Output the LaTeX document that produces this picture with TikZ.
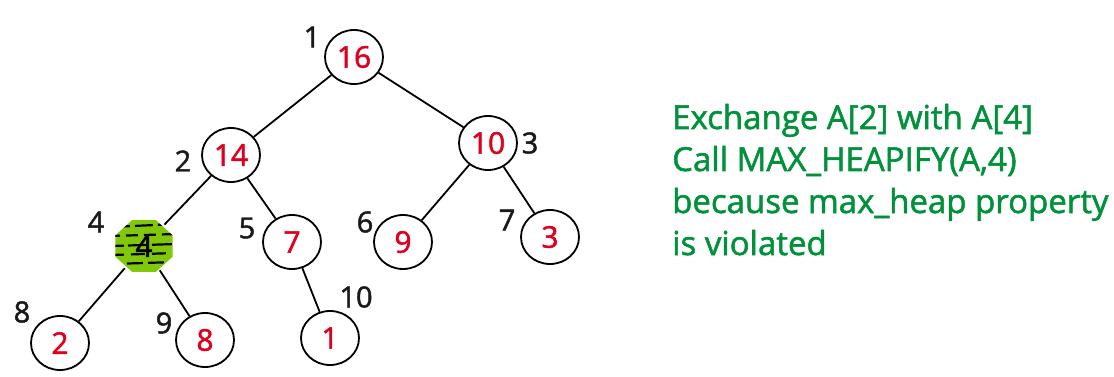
\documentclass[tikz,border=0pt]{standalone}
\usepackage{fontspec}
\setmainfont{Open Sans}[FakeBold=1.6]
\usetikzlibrary{shapes.geometric}

\begin{document}
\begin{tikzpicture}[x=1pt,y=-1pt,
    heapNode/.style={ellipse, draw, line width=1.8pt, minimum width=58pt, minimum height=54pt, inner sep=0pt, text=keyRed, font=\fontsize{30}{36}\selectfont},
    indexLabel/.style={text=black!90, inner sep=0pt, font=\fontsize{29}{34}\selectfont},
    treeEdge/.style={line width=1.8pt},
    msgLine/.style={anchor=base west, inner sep=0pt, text=msgGreen, font=\fontsize{33}{42}\selectfont}]

% colors
\definecolor{keyRed}{RGB}{222,0,32}
\definecolor{msgGreen}{RGB}{0,145,58}
\definecolor{markGreen}{RGB}{128,200,10}

\useasboundingbox (0,0) rectangle (1114,377);

% marked node (index 4): green octagon with black scribbles
\coordinate (markCenter) at (144,246);
\begin{scope}
    \path[clip] (markCenter) +(22.5:31 and 28) -- +(67.5:31 and 28) -- +(112.5:31 and 28) -- +(157.5:31 and 28)
        -- +(202.5:31 and 28) -- +(247.5:31 and 28) -- +(292.5:31 and 28) -- +(337.5:31 and 28) -- cycle;
    \fill[markGreen] (markCenter) ellipse (34 and 30);
    \draw[line width=2.2pt, dash pattern=on 18pt off 5pt] (112,227) -- (176,224);
    \draw[line width=2.2pt, dash pattern=on 12pt off 6pt, dash phase=4pt] (112,236) -- (176,234);
    \draw[line width=2.2pt, dash pattern=on 20pt off 4pt, dash phase=8pt] (112,246) -- (176,244);
    \draw[line width=2.2pt, dash pattern=on 14pt off 7pt, dash phase=2pt] (112,255) -- (176,253);
    \draw[line width=2.2pt, dash pattern=on 16pt off 5pt, dash phase=6pt] (112,264) -- (176,262);
\end{scope}

% heap nodes, numbered as in the array
\node[heapNode] (n1) at (354,57) {16};
\node[heapNode] (n2) at (231,155) {14};
\node[heapNode] (n3) at (488,143) {10};
\node[heapNode, draw=none, text=black, minimum width=62pt, minimum height=54pt] (n4) at (markCenter) {4};
\node[heapNode] (n5) at (292,242) {7};
\node[heapNode] (n6) at (403,242) {9};
\node[heapNode] (n7) at (550,237) {3};
\node[heapNode] (n8) at (60,343) {2};
\node[heapNode] (n9) at (205,340) {8};
\node[heapNode] (n10) at (330,338) {1};

% array indices
\node[indexLabel] (i1) at (312,37) {1};
\node[indexLabel] (i2) at (183,161) {2};
\node[indexLabel] (i3) at (530,143) {3};
\node[indexLabel] (i4) at (96,222) {4};
\node[indexLabel] (i5) at (247,228) {5};
\node[indexLabel] (i6) at (365,222) {6};
\node[indexLabel] (i7) at (507,220) {7};
\node[indexLabel] (i8) at (22,312) {8};
\node[indexLabel] (i9) at (164,323) {9};
\node[indexLabel] (i10) at (356,297) {10};

% tree edges
\draw[treeEdge] (n1) -- (n2);
\draw[treeEdge] (n1) -- (n3);
\draw[treeEdge] (n2) -- (n4);
\draw[treeEdge] (n2) -- (n5);
\draw[treeEdge] (n3) -- (n6);
\draw[treeEdge] (n3) -- (n7);
\draw[treeEdge] (n4) -- (n8);
\draw[treeEdge] (n4) -- (n9);
\draw[treeEdge] (n5) -- (n10);

% explanation
\node[msgLine] (msg1) at (672,129) {Exchange A[2] with A[4]};
\node[msgLine] (msg2) at (672,171) {Call MAX\_HEAPIFY(A,4)};
\node[msgLine] (msg3) at (672,213) {because max\_heap property};
\node[msgLine] (msg4) at (672,255) {is violated};

\end{tikzpicture}
\end{document}
